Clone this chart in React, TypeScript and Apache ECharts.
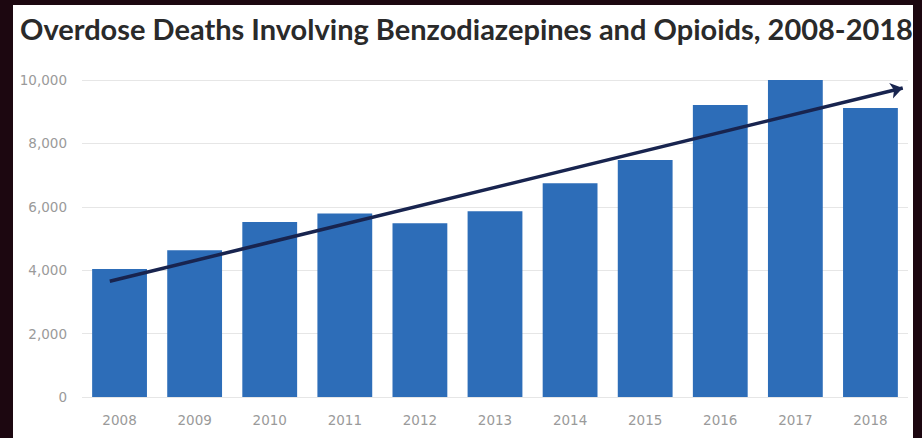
import React, { useEffect, useRef } from "react";
import * as echarts from "echarts";

const title = "Overdose Deaths Involving Benzodiazepines and Opioids, 2008-2018";
const years = ["2008", "2009", "2010", "2011", "2012", "2013", "2014", "2015", "2016", "2017", "2018"];
const deaths = [4040, 4630, 5520, 5790, 5480, 5860, 6740, 7480, 9210, 10000, 9120];
// trend arrow endpoints: [category position, value]
const trendStart = [-0.13, 3650];
const trendEnd = [10.43, 9750];
const yTicks = { min: 0, max: 10000, interval: 2000 };

export default function App() {
  const ref = useRef<HTMLDivElement>(null);
  useEffect(() => {
    if (!ref.current) return;
    const chart = echarts.init(ref.current, null, { renderer: "svg" });
    chart.setOption({
      animation: false,
      backgroundColor: "#1c0710",
      graphic: [
        {
          type: "rect",
          z: -10,
          shape: { x: 13, y: 5, width: 900, height: 440 },
          style: { fill: "#ffffff" },
        },
      ],
      title: {
        text: title,
        left: 15,
        top: 9,
        textStyle: {
          fontFamily: "Lato",
          fontWeight: "bold",
          fontSize: 29,
          color: "#2a2a2a",
        },
      },
      grid: { left: 82, right: 14, top: 80, bottom: 41 },
      xAxis: [
        {
          type: "category",
          data: years,
          axisLine: { show: false },
          axisTick: { show: false },
          axisLabel: { color: "#9a9a9a", fontSize: 13.5, fontFamily: "DejaVu Sans", margin: 16 },
        },
        {
          type: "value",
          min: -0.5,
          max: 10.5,
          show: false,
        },
      ],
      yAxis: {
        type: "value",
        min: yTicks.min,
        max: yTicks.max,
        interval: yTicks.interval,
        axisLine: { show: false },
        axisTick: { show: false },
        splitLine: { lineStyle: { color: "#e6e6e6", width: 1 } },
        axisLabel: {
          color: "#9a9a9a",
          fontSize: 13.5,
          fontFamily: "DejaVu Sans",
          margin: 15,
          formatter: (v: number) => v.toLocaleString("en-US"),
        },
      },
      series: [
        {
          type: "bar",
          data: deaths,
          barWidth: "73%",
          itemStyle: { color: "#2d6db8" },
        },
        {
          type: "line",
          xAxisIndex: 1,
          data: [],
          markLine: {
            silent: true,
            symbol: ["none", "arrow"],
            symbolSize: [12, 12],
            label: { show: false },
            lineStyle: { color: "#18244f", width: 3.5, type: "solid" },
            data: [
              [
                { coord: trendStart },
                { coord: trendEnd },
              ],
            ],
          },
        },
      ],
    });
    return () => chart.dispose();
  }, []);
  return (
    <div
      ref={ref}
      style={{ position: "fixed", left: 0, top: 0, width: 922, height: 438 }}
    />
  );
}
